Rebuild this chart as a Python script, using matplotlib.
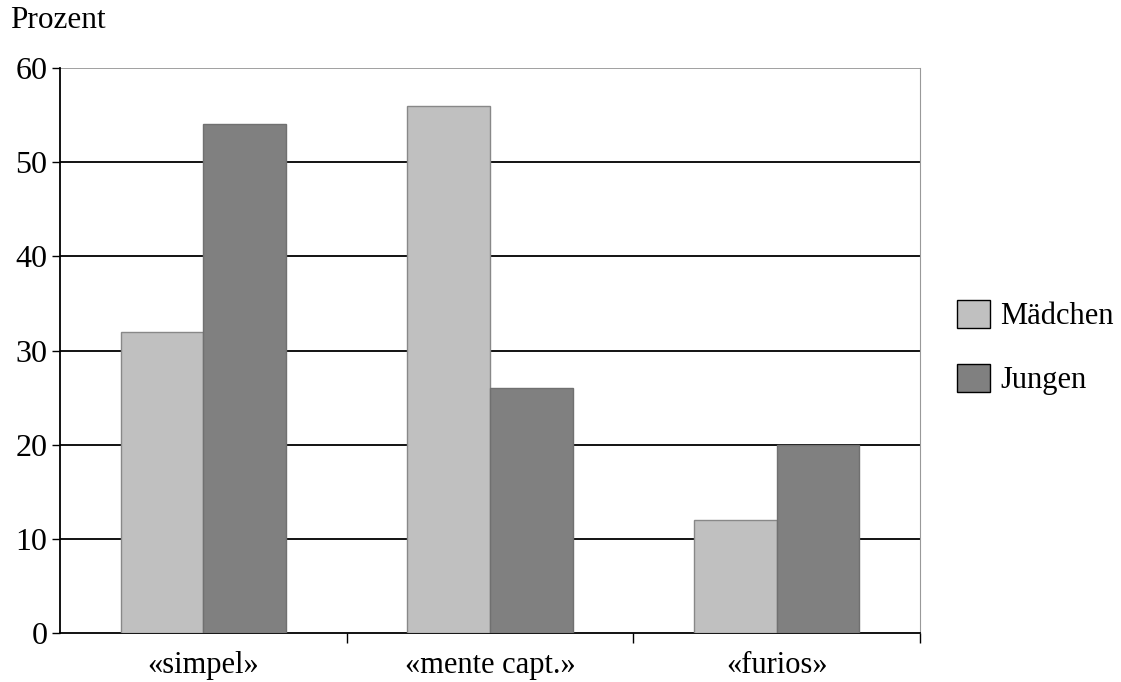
import numpy as np
import matplotlib.pyplot as plt
from matplotlib.patches import Patch

# Data
categories = ["«simpel»", "«mente capt.»", "«furios»"]
maedchen = [32, 56, 12]
jungen = [54, 26, 20]
series_names = ["Mädchen", "Jungen"]
yticks = [0, 10, 20, 30, 40, 50, 60]

plt.rcParams['font.family'] = ['Liberation Serif', 'DejaVu Serif']

fig = plt.figure(figsize=(11.21, 6.82), dpi=100)
ax = fig.add_axes([0.0535, 0.0718, 0.7672, 0.8285])

x = np.arange(len(categories))
w = 0.288
ax.bar(x - w / 2, maedchen, w, color='#c0c0c0', edgecolor='#888888', linewidth=1, zorder=3)
ax.bar(x + w / 2, jungen, w, color='#808080', edgecolor='#707070', linewidth=1, zorder=3)

ax.set_xlim(-0.5, 2.5)
ax.set_ylim(0, 60)
ax.set_yticks(yticks)
ax.set_yticklabels([str(t) for t in yticks], fontsize=23)
for t in yticks[1:-1]:
    ax.axhline(t, color='black', linewidth=1.3, zorder=1)
ax.axhline(60, color='#999999', linewidth=1.3, zorder=1)

# category labels between boundary ticks
ax.set_xticks([0.5, 1.5, 2.5])
ax.set_xticklabels([])
ax.set_xticks(x, minor=True)
ax.set_xticklabels(categories, minor=True, fontsize=22)
ax.tick_params(axis='x', which='minor', length=0, pad=13)
ax.tick_params(axis='x', which='major', length=7, width=1, direction='out')
ax.tick_params(axis='y', length=6, width=1, direction='out', pad=3)

ax.spines['top'].set_visible(False)
ax.spines['right'].set_color('#999999')
ax.spines['left'].set_linewidth(1.3)
ax.spines['bottom'].set_linewidth(1.3)

fig.text(0.009, 0.948, "Prozent", fontsize=22.5, va='bottom', ha='left')

handles = [Patch(facecolor='#c0c0c0', edgecolor='black'),
           Patch(facecolor='#808080', edgecolor='black')]
fig.legend(handles, series_names, loc='center left', bbox_to_anchor=(0.829, 0.49),
           frameon=False, fontsize=22, handlelength=1.08, handleheight=1.0,
           labelspacing=1.07, handletextpad=0.35)

fig.savefig("out.png", dpi=100)
